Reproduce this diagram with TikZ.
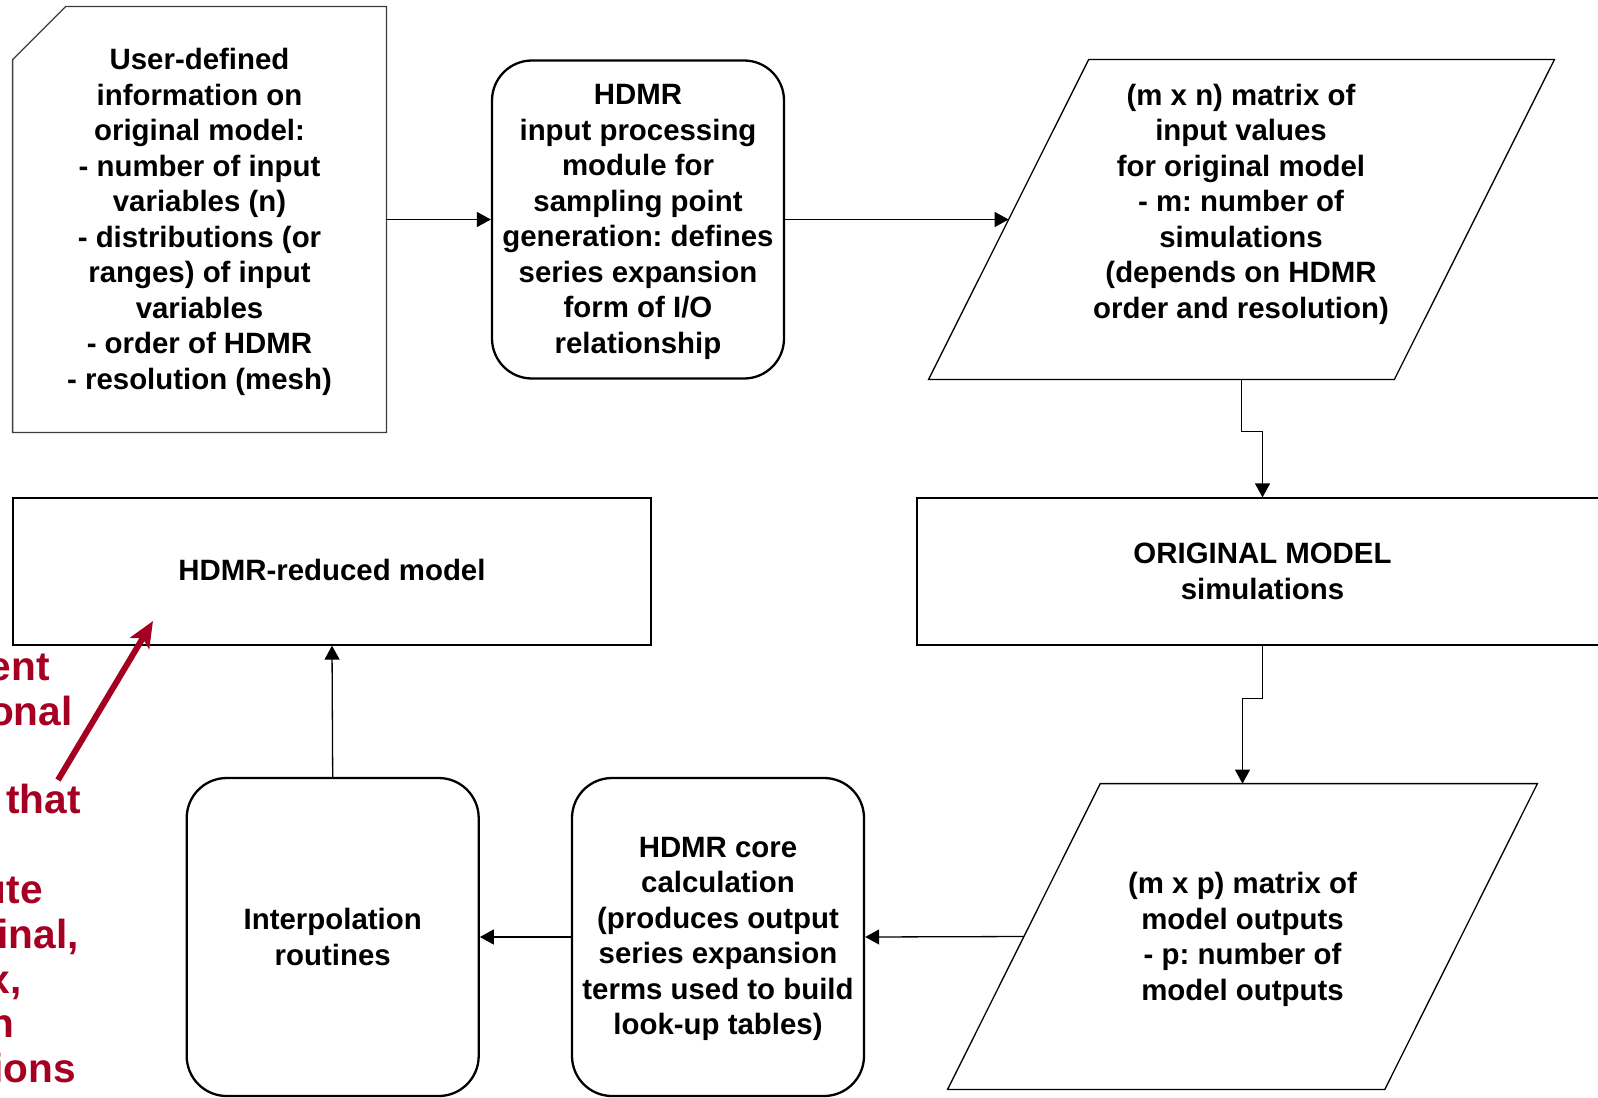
\documentclass[tikz,border=0pt]{standalone}
\usepackage{fontspec}
\setmainfont{Liberation Sans}
\usetikzlibrary{arrows.meta,calc}
\definecolor{linegray}{RGB}{60,60,60}
\definecolor{notered}{RGB}{165,0,33}
\frenchspacing
\begin{document}
\begin{tikzpicture}[x=0.5pt,y=-0.5pt,
  txt/.style={font=\bfseries\fontsize{14.7pt}{17.75pt}\selectfont\frenchspacing, align=center, text=black, inner sep=0pt},
  plainbox/.style={draw=linegray, line width=0.65pt, inner sep=0pt},
  roundbox/.style={draw=black, line width=1.15pt, rounded corners=20pt, inner sep=0pt,
    minimum width=146pt, minimum height=159pt},
  frame/.style={inner sep=0pt},
  dataline/.style={draw=black, line width=0.65pt},
  flow/.style={draw=black, line width=0.65pt, -{Triangle[length=7pt,width=7.5pt]}},
  note/.style={font=\bfseries\fontsize{20.3pt}{22.3pt}\selectfont, text=notered, inner sep=0pt, anchor=base east},
]
\useasboundingbox (0,0) rectangle (1598,1097);
\clip (0,0) rectangle (1598,1097);

% user input box with clipped corner
\node[frame, minimum width=186.5pt, minimum height=212.5pt] (b1) at (199.5,219.5) {};
\draw[plainbox] ($(b1.north west)+(0,53)$) -- ($(b1.north west)+(53,0)$) -- (b1.north east)
  -- (b1.south east) -- (b1.south west) -- cycle;
\node[txt] (b1t) at ($(b1.center)+(0,2.5)$) {User-defined\\information on\\original model:\\- number of input\\variables (n)\\- distributions (or\\ranges) of input\\variables\\- order of HDMR\\- resolution (mesh)};

% input processing module
\node[roundbox] (b2) at (638,219.5) {};
\node[txt] (b2t) at ($(b2.center)+(0,2.5)$) {HDMR\\input processing\\module for\\sampling point\\generation: defines\\series expansion\\form of I/O\\relationship};

% input matrix (parallelogram, slant 160)
\node[frame, minimum width=312.5pt, minimum height=159.5pt] (p1) at (1241.5,219.5) {};
\draw[dataline] (p1.south west) -- ($(p1.north west)+(160,0)$) -- (p1.north east)
  -- ($(p1.south east)+(-160,0)$) -- cycle;
\coordinate (p1in) at ($(p1.west)+(80,0)$);
\node[txt] (p1t) at (1241,204) {(m x n) matrix of\\input values\\for original model\\- m: number of\\simulations\\(depends on HDMR\\order and resolution)};

% original model simulations
\node[plainbox, draw=black, minimum width=345.5pt, minimum height=73.5pt] (om) at (1262.5,571.5) {};
\node[txt] (omt) at (om.center) {ORIGINAL MODEL\\simulations};

% output matrix (parallelogram, slant 152.6)
\node[frame, minimum width=294.5pt, minimum height=152.5pt] (p2) at (1242.5,936.5) {};
\draw[dataline] (p2.south west) -- ($(p2.north west)+(152.6,0)$) -- (p2.north east)
  -- ($(p2.south east)+(-152.6,0)$) -- cycle;
\coordinate (p2out) at ($(p2.west)+(76.3,0)$);
\node[txt] (p2t) at ($(p2.center)+(0,3)$) {(m x p) matrix of\\model outputs\\- p: number of\\model outputs};

% core calculation and interpolation
\node[roundbox] (core) at (718,937) {};
\node[txt] (coret) at ($(core.center)+(0,2)$) {HDMR core\\calculation\\(produces output\\series expansion\\terms used to build\\look-up tables)};
\node[roundbox] (interp) at (332.7,937) {};
\node[txt] (interpt) at (interp.center) {Interpolation\\routines};

% reduced model
\node[plainbox, draw=black, minimum width=319pt, minimum height=73.5pt] (red) at (332,571.5) {};
\node[txt] (redt) at ($(red.center)+(0,-2)$) {HDMR-reduced model};

% connectors
\draw[flow] (b1.east) -- (b2.west);
\draw[flow] (b2.east) -- (p1in);
\draw[flow] (p1.south) -- ++(0,52) -| (om.north);
\draw[flow] (om.south) -- ++(0,53) -| (p2.north);
\draw[flow] (p2out) -- (core.east);
\draw[flow] (core.west) -- (interp.east);
\draw[flow] (interp.north) -- (red.south);

% annotation
\coordinate (ntail) at (58,780);
\coordinate (nhead) at (153,621);
\draw[notered, line width=3pt, -{Stealth[length=13pt,width=11pt,inset=3pt]}] (ntail) -- (nhead);
\node[note] (n1) at (50,680) {ent};
\node[note] (n2) at (73,725) {onal};
\node[note] (n3) at (81,813) {that};
\node[note] (n4) at (43,903) {ute};
\node[note] (n5) at (79,948) {inal,};
\node[note] (n6) at (22,993) {x,};
\node[note] (n7) at (15,1037) {n};
\node[note] (n8) at (76,1082) {ions};
\end{tikzpicture}
\end{document}
